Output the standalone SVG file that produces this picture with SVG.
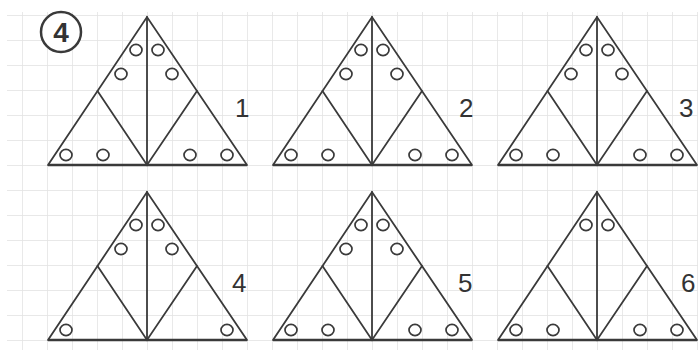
<svg xmlns="http://www.w3.org/2000/svg" xmlns:xlink="http://www.w3.org/1999/xlink" width="698" height="350" viewBox="0 0 698 350">
  <style>
    .ln { stroke: #3a3a3a; stroke-width: 1.8; fill: none; stroke-linecap: round; }
    .base { stroke: #3a3a3a; stroke-width: 2.4; fill: none; }
    .dot { stroke: #3a3a3a; stroke-width: 1.7; fill: #ffffff; }
    .num { font-family: "Liberation Sans", Arial, sans-serif; font-size: 26px; fill: #333333; }
    .grid { stroke: #e3e3e3; stroke-width: 1.6; }
  </style>
  <defs>
    <pattern id="gridpat" x="22" y="15" width="25" height="25" patternUnits="userSpaceOnUse">
      <line class="grid" x1="0" y1="0" x2="25" y2="0"/>
      <line class="grid" x1="0" y1="0" x2="0" y2="25"/>
    </pattern>
    <g id="frame">
      <line class="base" x1="-99" y1="148" x2="100" y2="148"/>
      <polyline class="ln" points="-99,148 0,0 100,148"/>
      <line class="ln" x1="0" y1="0" x2="0" y2="148"/>
      <polyline class="ln" points="-49.5,74 0,148 50,74"/>
    </g>
    <ellipse id="c" class="dot" rx="6" ry="5.6"/>
  </defs>

  <rect width="698" height="350" fill="#ffffff"/>
  <rect x="7" y="12" width="691" height="338" fill="url(#gridpat)"/>

  <g id="task-number">
    <circle cx="61" cy="32" r="20" fill="#ffffff" stroke="#3a3a3a" stroke-width="2.5"/>
    <text class="num" x="61" y="42" text-anchor="middle" style="font-size:28px;font-weight:bold">4</text>
  </g>

  <g id="tri1" transform="translate(147,17)">
    <use xlink:href="#frame"/>
    <use xlink:href="#c" x="-11" y="33"/><use xlink:href="#c" x="11" y="33"/>
    <use xlink:href="#c" x="-26" y="57"/><use xlink:href="#c" x="25" y="57"/>
    <use xlink:href="#c" x="-81" y="138"/><use xlink:href="#c" x="-44" y="138"/>
    <use xlink:href="#c" x="43" y="138"/><use xlink:href="#c" x="80" y="138"/>
  </g>
  <g id="tri2" transform="translate(372,17)">
    <use xlink:href="#frame"/>
    <use xlink:href="#c" x="-11" y="33"/><use xlink:href="#c" x="11" y="33"/>
    <use xlink:href="#c" x="-26" y="57"/><use xlink:href="#c" x="25" y="57"/>
    <use xlink:href="#c" x="-81" y="138"/><use xlink:href="#c" x="-44" y="138"/>
    <use xlink:href="#c" x="43" y="138"/><use xlink:href="#c" x="80" y="138"/>
  </g>
  <g id="tri3" transform="translate(597,17)">
    <use xlink:href="#frame"/>
    <use xlink:href="#c" x="-11" y="33"/><use xlink:href="#c" x="11" y="33"/>
    <use xlink:href="#c" x="-26" y="57"/><use xlink:href="#c" x="25" y="57"/>
    <use xlink:href="#c" x="-81" y="138"/><use xlink:href="#c" x="-44" y="138"/>
    <use xlink:href="#c" x="43" y="138"/><use xlink:href="#c" x="80" y="138"/>
  </g>
  <g id="tri4" transform="translate(147,192)">
    <use xlink:href="#frame"/>
    <use xlink:href="#c" x="-11" y="33"/><use xlink:href="#c" x="11" y="33"/>
    <use xlink:href="#c" x="-26" y="57"/><use xlink:href="#c" x="25" y="57"/>
    <use xlink:href="#c" x="-81" y="138"/><use xlink:href="#c" x="80" y="138"/>
  </g>
  <g id="tri5" transform="translate(372,192)">
    <use xlink:href="#frame"/>
    <use xlink:href="#c" x="-11" y="33"/><use xlink:href="#c" x="11" y="33"/>
    <use xlink:href="#c" x="-26" y="57"/><use xlink:href="#c" x="25" y="57"/>
    <use xlink:href="#c" x="-81" y="138"/><use xlink:href="#c" x="-44" y="138"/>
    <use xlink:href="#c" x="43" y="138"/><use xlink:href="#c" x="80" y="138"/>
  </g>
  <g id="tri6" transform="translate(597,192)">
    <use xlink:href="#frame"/>
    <use xlink:href="#c" x="-11" y="33"/><use xlink:href="#c" x="11" y="33"/>
    <use xlink:href="#c" x="-81" y="138"/><use xlink:href="#c" x="-44" y="138"/>
    <use xlink:href="#c" x="43" y="138"/><use xlink:href="#c" x="80" y="138"/>
  </g>

  <g id="labels">
    <text class="num" x="235" y="117">1</text>
    <text class="num" x="459" y="117">2</text>
    <text class="num" x="679" y="117">3</text>
    <text class="num" x="232" y="292">4</text>
    <text class="num" x="458" y="292">5</text>
    <text class="num" x="681" y="292">6</text>
  </g>
  <g id="connectors"/>
</svg>
